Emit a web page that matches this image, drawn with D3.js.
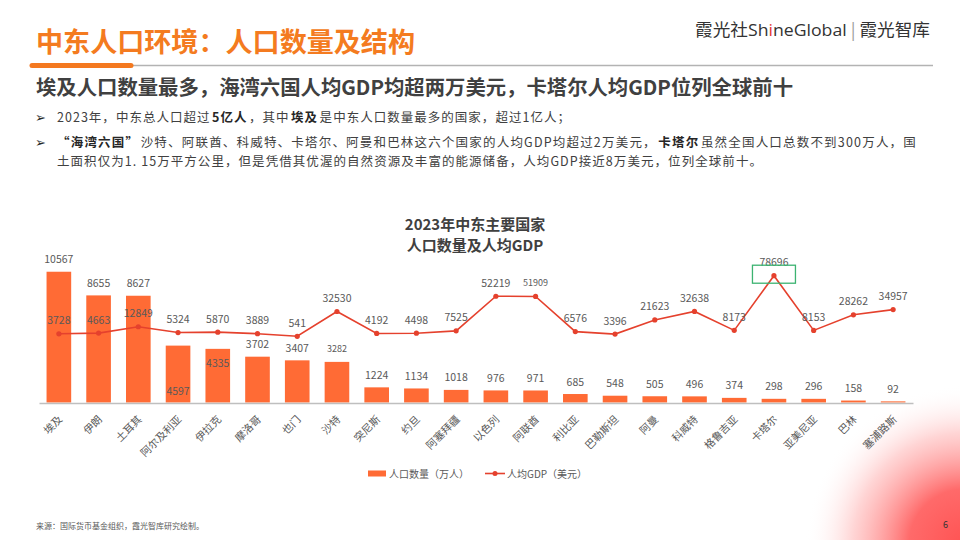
<!DOCTYPE html>
<html><head><meta charset="utf-8">
<script src="https://cdn.jsdelivr.net/npm/d3@7"></script>
<style>
html,body{margin:0;padding:0;background:#fff;}
svg{display:block;font-family:"Noto Sans CJK SC","Microsoft YaHei",sans-serif;}
</style></head>
<body>
<script>
const countries = ["埃及","伊朗","土耳其","阿尔及利亚","伊拉克","摩洛哥","也门","沙特","突尼斯","约旦","阿塞拜疆","以色列","阿联酋","利比亚","巴勒斯坦","阿曼","科威特","格鲁吉亚","卡塔尔","亚美尼亚","巴林","塞浦路斯"];
const population = [10567,8655,8627,4597,4335,3702,3407,3282,1224,1134,1018,976,971,685,548,505,496,374,298,296,158,92];
const gdpPerCapita = [3728,4663,12849,5324,5870,3889,541,32530,4192,4498,7525,52219,51909,6576,3396,21623,32638,8173,78696,8153,28262,34957];
const seriesNames = ["人口数量（万人）","人均GDP（美元）"];
const chartTitle = ["2023年中东主要国家","人口数量及人均GDP"];
const highlightCountry = "卡塔尔";

const W=960,H=540;
const svg=d3.select("body").append("svg").attr("width",W).attr("height",H);
const defs=svg.append("defs");
const rg=defs.append("radialGradient").attr("id","corner").attr("gradientUnits","userSpaceOnUse")
  .attr("cx",965).attr("cy",545).attr("r",160);
rg.append("stop").attr("offset","0").attr("stop-color","#ff5252");
rg.append("stop").attr("offset","0.35").attr("stop-color","#ff6a6a");
rg.append("stop").attr("offset","0.7").attr("stop-color","#ffb8b8").attr("stop-opacity",0.6);
rg.append("stop").attr("offset","1").attr("stop-color","#ffffff").attr("stop-opacity",0);
svg.append("rect").attr("x",780).attr("y",360).attr("width",180).attr("height",180).attr("fill","url(#corner)");

// Header
svg.append("text").attr("x",36).attr("y",52).attr("font-size",27).attr("font-weight","bold")
  .attr("fill","#f47b20").attr("textLength",379).attr("lengthAdjust","spacingAndGlyphs")
  .text("中东人口环境：人口数量及结构");
svg.append("line").attr("x1",133).attr("x2",933).attr("y1",65.5).attr("y2",65.5).attr("stroke","#b3b3b3").attr("stroke-width",1.5);
svg.append("line").attr("x1",32).attr("x2",131).attr("y1",65.5).attr("y2",65.5).attr("stroke","#f47920").attr("stroke-width",5).attr("stroke-linecap","round");

const logo=svg.append("text").attr("x",695).attr("y",36).attr("font-size",17).attr("fill","#333")
  .attr("textLength",235).attr("lengthAdjust","spacingAndGlyphs");
logo.append("tspan").text("霞光社");
logo.append("tspan").attr("font-family","Open Sans, sans-serif").text("Sh");
logo.append("tspan").attr("font-family","Open Sans, sans-serif").attr("fill","#e53935").text("i");
logo.append("tspan").attr("font-family","Open Sans, sans-serif").text("neGlobal");
logo.append("tspan").attr("fill","#999").text(" | ");
logo.append("tspan").text("霞光智库");

svg.append("text").attr("x",36).attr("y",95).attr("font-size",20).attr("font-weight","bold")
  .attr("fill","#404040").attr("textLength",757).attr("lengthAdjust","spacingAndGlyphs")
  .text("埃及人口数量最多，海湾六国人均GDP均超两万美元，卡塔尔人均GDP位列全球前十");

// Bullets: each run is its own text element, laid out one after another
function bulletLine(y,parts,len){
  const gap=1.5;
  const g=svg.append("g");
  const nodes=parts.map(p=>g.append("text").attr("y",y).attr("font-size",12.5)
    .attr("font-weight",p[1]?"bold":"normal").attr("fill",p[1]?"#262626":"#404040").text(p[0]));
  const natural=d3.sum(nodes,n=>n.node().getComputedTextLength());
  const chars=d3.sum(parts,p=>[...p[0]].length);
  const ls=(len-natural-gap*(parts.length-1))/chars;
  let cx=57;
  nodes.forEach(n=>{
    n.attr("letter-spacing",ls).attr("x",cx);
    cx+=n.node().getComputedTextLength()+gap;
  });
}
function arrow(y){
  svg.append("text").attr("x",35).attr("y",y).attr("font-size",13).attr("font-family","DejaVu Sans, sans-serif").attr("fill","#262626").text("➢");
}
arrow(122); arrow(147);
bulletLine(122,[["2023年，中东总人口超过",0],["5亿人",1],["，其中",0],["埃及",1],["是中东人口数量最多的国家，超过1亿人；",0]],514);
bulletLine(147,[["“海湾六国”",1],["沙特、阿联酋、科威特、卡塔尔、阿曼和巴林这六个国家的人均GDP均超过2万美元，",0],["卡塔尔",1],["虽然全国人口总数不到300万人，国",0]],860);
bulletLine(165.5,[["土面积仅为1. 15万平方公里，但是凭借其优渥的自然资源及丰富的能源储备，人均GDP接近8万美元，位列全球前十。",0]],706);

// Chart title
svg.append("text").attr("x",475).attr("y",229.5).attr("text-anchor","middle").attr("font-size",15).attr("font-weight","bold").attr("fill","#404040").text(chartTitle[0]);
svg.append("text").attr("x",475).attr("y",250.5).attr("text-anchor","middle").attr("font-size",15).attr("font-weight","bold").attr("fill","#404040").text(chartTitle[1]);

// Scales
const x=d3.scaleBand().domain(countries).range([39,913]).paddingInner(0.38).paddingOuter(0.19);
const yPop=d3.scaleLinear().domain([0,12000]).range([402.5,254]);
const yGdp=d3.scaleLinear().domain([0,80000]).range([336.7,274.7]);
const barColor="#ff6b35", lineColor="#e5412d", labelColor="#595959";

const data=countries.map((c,i)=>({c,pop:population[i],gdp:gdpPerCapita[i]}));

svg.append("g").selectAll("rect").data(data).join("rect")
  .attr("x",d=>x(d.c)).attr("width",x.bandwidth())
  .attr("y",d=>yPop(d.pop)).attr("height",d=>yPop(0)-yPop(d.pop)).attr("fill",barColor);

// axis
const axis=svg.append("g").attr("transform","translate(0,403)").call(d3.axisBottom(x).tickSize(0).tickFormat(""));
axis.select(".domain").attr("stroke","#bfbfbf").attr("stroke-width",1.5);

// x labels
svg.append("g").selectAll("text").data(countries).join("text")
  .attr("transform",c=>`translate(${x(c)+x.bandwidth()/2+1},417) rotate(-45)`)
  .attr("text-anchor","end").attr("dominant-baseline","central")
  .attr("font-size",10.5).attr("fill",labelColor).text(c=>c);

// bar labels (some moved inside bars to avoid overlaps)
const barLabelShift={"阿尔及利亚":58,"伊拉克":27};
const smallLabels=new Set(["沙特"]);
svg.append("g").selectAll("text").data(data).join("text")
  .attr("x",d=>x(d.c)+x.bandwidth()/2)
  .attr("y",d=>yPop(d.pop)-13+(barLabelShift[d.c]||0))
  .attr("text-anchor","middle").attr("dominant-baseline","central")
  .attr("font-size",d=>smallLabels.has(d.c)?9:10.5).attr("fill",labelColor).text(d=>d.pop);

// line
const line=d3.line().x(d=>x(d.c)+x.bandwidth()/2).y(d=>yGdp(d.gdp));
svg.append("path").datum(data).attr("d",line).attr("fill","none").attr("stroke",lineColor).attr("stroke-width",1.6);
svg.append("g").selectAll("circle").data(data).join("circle")
  .attr("cx",d=>x(d.c)+x.bandwidth()/2).attr("cy",d=>yGdp(d.gdp)).attr("r",2.6).attr("fill",lineColor);

const smallGdp=new Set(["阿联酋"]);
svg.append("g").selectAll("text").data(data).join("text")
  .attr("x",d=>x(d.c)+x.bandwidth()/2)
  .attr("y",d=>yGdp(d.gdp)-14)
  .attr("text-anchor","middle").attr("dominant-baseline","central")
  .attr("font-size",d=>smallGdp.has(d.c)?9:10.5).attr("fill",labelColor).text(d=>d.gdp);

// highlight box
const hq=data.find(d=>d.c===highlightCountry);
const hx=x(hq.c)+x.bandwidth()/2, hy=yGdp(hq.gdp);
svg.append("rect").attr("x",hx-21.5).attr("y",hy-10.5).attr("width",43).attr("height",18)
  .attr("fill","none").attr("stroke","#3cb371").attr("stroke-width",1.3);

// legend
const lg=svg.append("g").attr("font-size",10).attr("fill",labelColor);
lg.append("rect").attr("x",368).attr("y",470.5).attr("width",18).attr("height",6).attr("fill",barColor);
lg.append("text").attr("x",389).attr("y",473.5).attr("dominant-baseline","central").attr("fill",labelColor).text(seriesNames[0]);
lg.append("line").attr("x1",485).attr("x2",505).attr("y1",473.5).attr("y2",473.5).attr("stroke",lineColor).attr("stroke-width",1.6);
lg.append("circle").attr("cx",495).attr("cy",473.5).attr("r",2.5).attr("fill",lineColor);
lg.append("text").attr("x",507).attr("y",473.5).attr("dominant-baseline","central").attr("fill",labelColor).text(seriesNames[1]);

// footer
svg.append("text").attr("x",36).attr("y",529).attr("font-size",8).attr("fill","#595959").text("来源：国际货币基金组织，霞光智库研究绘制。");
svg.append("text").attr("x",943).attr("y",528).attr("font-size",9).attr("fill","#333").text("6");
</script>
</body></html>
